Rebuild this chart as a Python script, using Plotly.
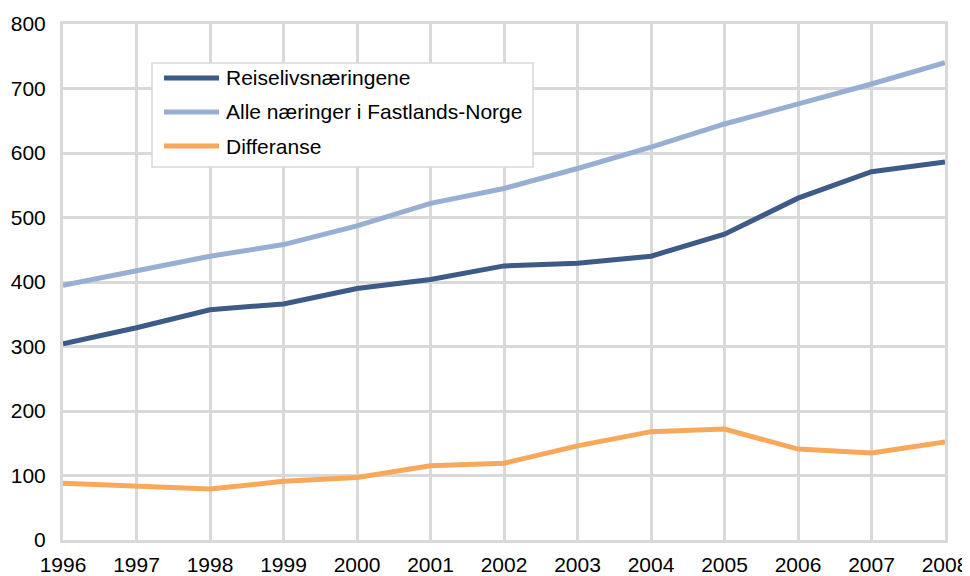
import plotly.graph_objects as go

years = list(range(1996, 2009))
reiseliv = [304, 329, 357, 366, 390, 404, 425, 429, 440, 474, 530, 571, 586]
alle = [395, 417, 440, 458, 487, 522, 545, 576, 609, 645, 676, 707, 740]
differanse = [88, 84, 79, 91, 97, 115, 119, 146, 168, 172, 141, 135, 152]

names = ["Reiselivsnæringene", "Alle næringer i Fastlands-Norge", "Differanse"]
colors = ["#3e5a87", "#98aed2", "#f7a85a"]
series = [reiseliv, alle, differanse]

fig = go.Figure()
for n, c, s in zip(names, colors, series):
    fig.add_trace(go.Scatter(x=years, y=s, name=n, mode="lines",
                             line=dict(color=c, width=5), showlegend=False))

# page body has an 8px margin; figure is 962x568 placed at (8,8)
OFF = 8
W, H = 970 - OFF, 576 - OFF
# Plot area in viewport pixels: x 63..945, y 24..540
L, R, T, B = 63, 945, 24, 540
def px(x):
    return (x - L) / (R - L)
def py(y):
    return (B - y) / (B - T)

grid = "#d9d9d9"
# custom legend box
fig.add_shape(type="rect", xref="paper", yref="paper",
              x0=px(152), x1=px(533), y0=py(167), y1=py(63),
              line=dict(color="#d9d9d9", width=1.5), fillcolor="white", layer="above")
row_y = [78, 112, 146]
for n, c, ry in zip(names, colors, row_y):
    fig.add_shape(type="line", xref="paper", yref="paper",
                  x0=px(164), x1=px(219), y0=py(ry), y1=py(ry),
                  line=dict(color=c, width=5), layer="above")
    fig.add_annotation(xref="paper", yref="paper", x=px(224), y=py(ry),
                       xanchor="left", yanchor="middle", text=n, showarrow=False,
                       font=dict(size=21, color="#000000"))

fig.update_layout(
    width=W, height=H,
    margin=dict(l=L - OFF, r=W - (R - OFF), t=T - OFF, b=H - (B - OFF), autoexpand=False),
    paper_bgcolor="white", plot_bgcolor="white",
    font=dict(family="Liberation Sans, Arial, sans-serif", size=21, color="#000000"),
    showlegend=False,
    xaxis=dict(range=[1996, 2008], tickmode="array", tickvals=years,
               ticktext=[str(y) for y in years],
               showgrid=True, gridcolor=grid, gridwidth=3,
               showline=True, linecolor=grid, linewidth=3, mirror=True,
               zeroline=False, ticks="", ticklen=0, automargin=False,
               tickfont=dict(size=21), ticklabelstandoff=4),
    yaxis=dict(range=[0, 800], tickvals=list(range(0, 801, 100)),
               showgrid=True, gridcolor=grid, gridwidth=3,
               showline=True, linecolor=grid, linewidth=3, mirror=True,
               zeroline=False, ticks="", ticklen=0, automargin=False,
               tickfont=dict(size=21), ticklabelstandoff=10),
)
fig.write_html("out.html")
